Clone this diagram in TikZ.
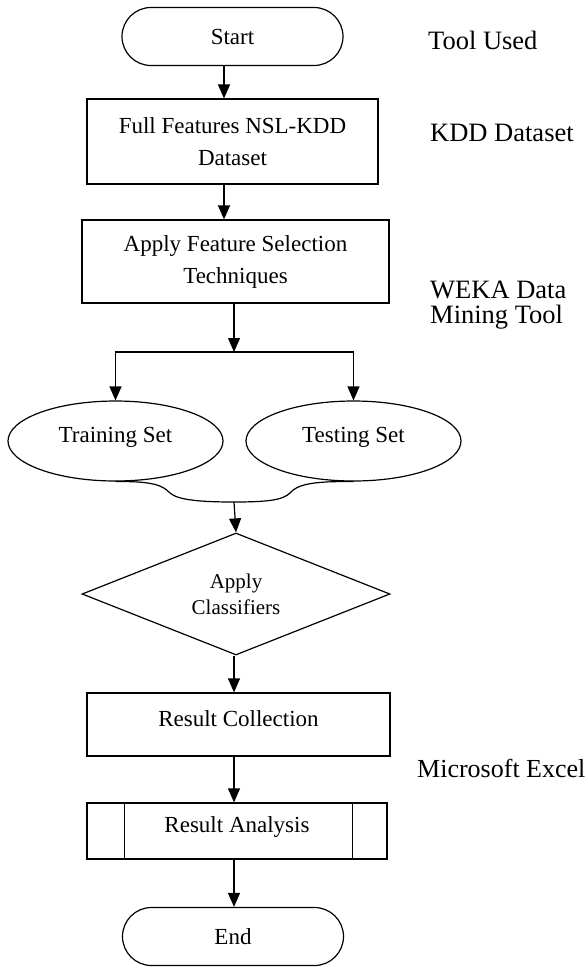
\documentclass[tikz,border=0pt]{standalone}
\usepackage{fontspec}
\setmainfont{Liberation Serif}
\usetikzlibrary{shapes.geometric,shapes.misc,arrows.meta}

\tikzset{
  flow/.style={draw=black, line width=1.2pt},
  term/.style={flow, rounded rectangle, minimum width=221pt, minimum height=58pt,
    inner sep=0pt, font=\fontsize{23}{32}\selectfont},
  procbox/.style={flow, rectangle, inner sep=0pt, align=center,
    font=\fontsize{23}{32}\selectfont},
  setellipse/.style={flow, ellipse, minimum width=215pt, minimum height=80pt,
    inner sep=0pt, font=\fontsize{23}{32}\selectfont},
  decision/.style={flow, diamond, aspect=2.5, minimum width=308pt, minimum height=122pt,
    inner sep=0pt, align=center, font=\fontsize{21}{26}\selectfont},
  hitext/.style={text depth=12pt},
  arr/.style={line width=1.2pt, -{Triangle[length=14pt,width=12pt]}},
  note/.style={anchor=west, inner sep=0pt, align=left, font=\fontsize{26.5}{25}\selectfont},
}

\begin{document}
\begin{tikzpicture}[x=1pt, y=-1pt]
  \useasboundingbox (0,0) rectangle (588,967);

  % axes used by the vertical connectors
  \coordinate (axup) at (224,0);
  \coordinate (axmain) at (234,0);

  % flow steps
  \node[term] (start) at (232.5,36.5) {Start};
  \node[procbox, minimum width=291pt, minimum height=85pt] (full) at (232.5,141.5)
    {Full Features NSL-KDD\\Dataset};
  \node[procbox, minimum width=307pt, minimum height=83pt] (select) at (235.5,261.5)
    {Apply Feature Selection\\Techniques};
  \node[setellipse, hitext] (train) at (115.5,441) {Training Set};
  \node[setellipse, hitext] (test) at (353.5,441) {Testing Set};
  \node[decision] (classify) at (236,594) {Apply\\Classifiers};
  \node[procbox, hitext, minimum width=303pt, minimum height=63pt] (collect) at (238.5,724.5)
    {Result Collection};
  \node[procbox, hitext, minimum width=300pt, minimum height=56pt] (analysis) at (237,831)
    {Result Analysis};
  \draw[flow] ([xshift=38pt]analysis.north west) -- ([xshift=38pt]analysis.south west);
  \draw[flow] ([xshift=-35pt]analysis.north east) -- ([xshift=-35pt]analysis.south east);
  \node[term] (end) at (233,936.5) {End};

  % tools column
  \node[note] (tools) at (428,40) {Tool Used};
  \node[note] (kdd) at (430,133) {KDD Dataset};
  \node[note] (weka) at (430,305) {WEKA Data\\Mining Tool};
  \node[note, font=\fontsize{26}{25}\selectfont] (excel) at (417,768) {Microsoft Excel};

  % split and merge points
  \coordinate (split) at (234,352);
  \coordinate (merge) at (234,502);

  % connectors
  \draw[arr] (start.south -| axup) -- (full.north -| axup);
  \draw[arr] (full.south -| axup) -- (select.north -| axup);
  \draw[arr] (select.south -| split) -- (split);
  \draw[arr] (split) -| (train.north);
  \draw[arr] (split) -| (test.north);
  \draw[flow] (train.south) .. controls (155,481) and (163,486) .. (170,493)
    .. controls (178,500) and (200,502) .. (merge)
    .. controls (268,502) and (283,500) .. (290,493)
    .. controls (297,485) and (310,481) .. (test.south);
  \draw[arr] (merge) -- (classify.north);
  \draw[arr] (classify.south -| axmain) -- (collect.north -| axmain);
  \draw[arr] (collect.south -| axmain) -- (analysis.north -| axmain);
  \draw[arr] (analysis.south -| axmain) -- (end.north -| axmain);
\end{tikzpicture}
\end{document}
